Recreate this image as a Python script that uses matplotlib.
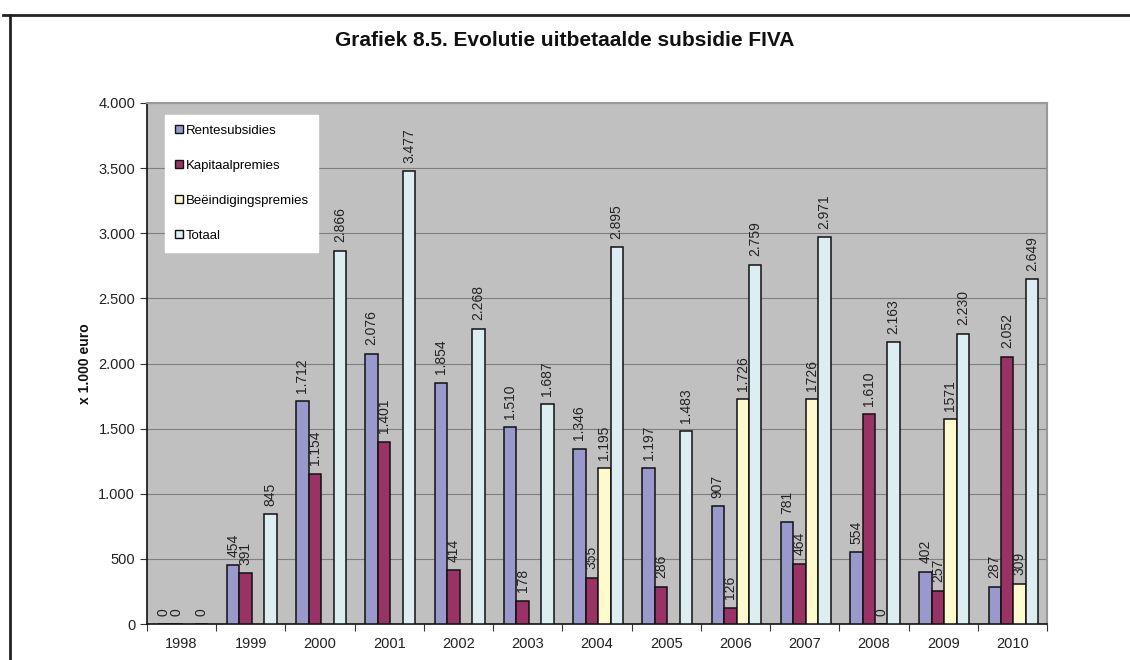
import numpy as np
import matplotlib
matplotlib.use('Agg')
import matplotlib.pyplot as plt
from matplotlib.lines import Line2D
from matplotlib.ticker import FuncFormatter

plt.rcParams['font.family'] = ['Liberation Sans', 'DejaVu Sans']

years = ['1998', '1999', '2000', '2001', '2002', '2003', '2004', '2005', '2006', '2007', '2008', '2009', '2010']
series_names = ['Rentesubsidies', 'Kapitaalpremies', 'Beëindigingspremies', 'Totaal']
rente = [0, 454, 1712, 2076, 1854, 1510, 1346, 1197, 907, 781, 554, 402, 287]
kapitaal = [0, 391, 1154, 1401, 414, 178, 355, 286, 126, 464, 1610, 257, 2052]
beeind = [np.nan, np.nan, np.nan, np.nan, np.nan, np.nan, 1195, np.nan, 1726, 1726, 0, 1571, 309]
totaal = [0, 845, 2866, 3477, 2268, 1687, 2895, 1483, 2759, 2971, 2163, 2230, 2649]
# labels as printed in the source (two of them without thousands separator)
beeind_labels = ['', '', '', '', '', '', '1.195', '', '1.726', '1726', '0', '1571', '309']
colors = ['#9999CC', '#993366', '#FFFACD', '#DDEEF2']


def fmt(v):
    return '{:,.0f}'.format(v).replace(',', '.')


fig = plt.figure(figsize=(11.3, 6.6), dpi=100)
ax = fig.add_axes([147 / 1130, 1 - 624 / 660, 900 / 1130, 521 / 660])
ax.set_facecolor('#C0C0C0')

x = np.arange(len(years))
w = 0.18
data = [rente, kapitaal, beeind, totaal]
for k, vals in enumerate(data):
    pos = x + (k - 1.5) * w + 0.015
    ax.bar(pos, vals, width=w, color=colors[k], edgecolor='#111111',
           linewidth=1.1, label=series_names[k], zorder=3)
    for i, v in enumerate(vals):
        if np.isnan(v):
            continue
        txt = beeind_labels[i] if k == 2 else fmt(v)
        ax.annotate(txt, (pos[i], v), xytext=(0, 6), textcoords='offset points',
                    rotation=90, ha='center', va='bottom', fontsize=10,
                    color='#222222', zorder=4)

ax.set_xlim(-0.5, len(years) - 0.5)
ax.set_ylim(0, 4000)
ax.set_yticks(np.arange(0, 4001, 500))
ax.yaxis.set_major_formatter(FuncFormatter(lambda v, p: fmt(v)))
ax.grid(axis='y', color='#7F7F7F', linewidth=0.8, zorder=1)
ax.set_axisbelow(True)

ax.set_xticks(np.arange(-0.5, len(years), 1.0))
ax.set_xticklabels([])
ax.set_xticks(x, minor=True)
ax.set_xticklabels(years, minor=True)
ax.tick_params(axis='x', which='major', length=5, color='#333333')
ax.tick_params(axis='x', which='minor', length=0, pad=9, labelsize=10.5, labelcolor='#222222')
ax.tick_params(axis='y', length=5, color='#333333', labelsize=10.5, labelcolor='#222222')

for s in ['left', 'bottom']:
    ax.spines[s].set_color('#111111')
    ax.spines[s].set_linewidth(1.2)
for s in ['top', 'right']:
    ax.spines[s].set_color('#999999')
    ax.spines[s].set_linewidth(1.5)

leg = ax.legend(loc='upper left', bbox_to_anchor=(0.02, 0.977), fontsize=9.5,
                frameon=True, fancybox=False, facecolor='white', edgecolor='white',
                framealpha=1, labelspacing=1.74, handlelength=0.6, handleheight=0.6,
                handletextpad=0.2, borderpad=0.75, borderaxespad=0)
for h in leg.legend_handles:
    h.set_linewidth(1.0)

fig.text(0.5, 1 - 40 / 660, 'Grafiek 8.5. Evolutie uitbetaalde subsidie FIVA',
         ha='center', va='center', fontsize=15, fontweight='bold', color='#111111')
fig.text(85 / 1130, 1 - 364 / 660, 'x 1.000 euro', rotation=90, ha='center',
         va='center', fontsize=10, fontweight='bold', color='#111111')

# outer frame of the original figure
fig.add_artist(Line2D([3 / 1130, 1], [1 - 15 / 660, 1 - 15 / 660], transform=fig.transFigure,
                      color='#222222', linewidth=2))
fig.add_artist(Line2D([10 / 1130, 10 / 1130], [0, 1 - 15 / 660], transform=fig.transFigure,
                      color='#222222', linewidth=2))

fig.savefig('out.png', dpi=100)
